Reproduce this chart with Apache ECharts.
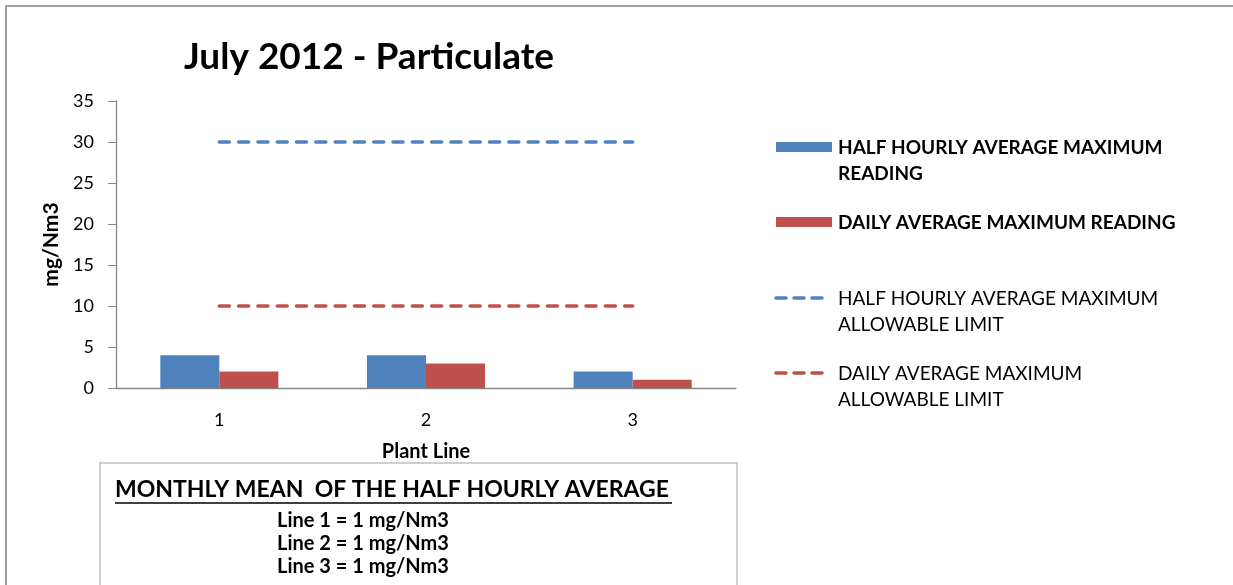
<!DOCTYPE html>
<html>
<head>
<meta charset="utf-8">
<script src="https://cdn.jsdelivr.net/npm/echarts@6/dist/echarts.min.js"></script>
<style>html,body{margin:0;padding:0;background:#fff;}#c{width:1233px;height:585px;}</style>
</head>
<body>
<div id="c"></div>
<script>
var categories = ['1', '2', '3'];
var halfHourlyMaxReading = [4, 4, 2];
var dailyMaxReading = [2, 3, 1];
var halfHourlyLimit = [30, 30, 30];
var dailyLimit = [10, 10, 10];
var yTicks = { min: 0, max: 35, interval: 5 };
var seriesNames = ['HALF HOURLY AVERAGE MAXIMUM READING', 'DAILY AVERAGE MAXIMUM READING', 'HALF HOURLY AVERAGE MAXIMUM ALLOWABLE LIMIT', 'DAILY AVERAGE MAXIMUM ALLOWABLE LIMIT'];
var monthlyMean = ['Line 1 = 1 mg/Nm3', 'Line 2 = 1 mg/Nm3', 'Line 3 = 1 mg/Nm3'];

var BLUE = '#4F81BD', RED = '#C0504D';
var FONT = 'Lato, "Open Sans", sans-serif';

var chart = echarts.init(document.getElementById('c'), null, { renderer: 'canvas' });

function legendItem(y, color, isLine, lines, bold) {
  var els = [];
  if (isLine) {
    els.push({ type: 'line', shape: { x1: 776, y1: y, x2: 829, y2: y },
      style: { stroke: color, lineWidth: 3.5, lineDash: [10, 8], lineCap: 'round' } });
  } else {
    els.push({ type: 'rect', shape: { x: 776, y: y - 5, width: 56, height: 10 }, style: { fill: color } });
  }
  lines.forEach(function (t, i) {
    els.push({ type: 'text', x: 838, y: y + 1 + i * 26,
      style: { text: t, fill: '#000', font: (bold ? 'bold ' : '') + '19px ' + FONT, textVerticalAlign: 'middle', textAlign: 'left' } });
  });
  return els;
}

var graphics = [
  { type: 'line', shape: { x1: 5, y1: 6, x2: 1240, y2: 6 }, style: { stroke: '#A0A0A0', lineWidth: 2 } },
  { type: 'line', shape: { x1: 6, y1: 5, x2: 6, y2: 600 }, style: { stroke: '#A0A0A0', lineWidth: 2 } },
  { type: 'rect', shape: { x: 100, y: 463, width: 637, height: 140 }, style: { fill: '#fff', stroke: '#BFBFBF', lineWidth: 1.5 } },
  { type: 'text', x: 115, y: 490, style: { text: 'MONTHLY MEAN  OF THE HALF HOURLY AVERAGE', fill: '#000', font: 'bold 23px ' + FONT, textVerticalAlign: 'middle' } },
  { type: 'line', shape: { x1: 115, y1: 503, x2: 672, y2: 503 }, style: { stroke: '#000', lineWidth: 1.5 } }
];
monthlyMean.forEach(function (t, i) {
  graphics.push({ type: 'text', x: 363, y: 521 + i * 23, style: { text: t, fill: '#000', font: 'bold 20px ' + FONT, textAlign: 'center', textVerticalAlign: 'middle' } });
});
graphics = graphics.concat(
  legendItem(147, BLUE, false, ['HALF HOURLY AVERAGE MAXIMUM', 'READING'], true),
  legendItem(222, RED, false, ['DAILY AVERAGE MAXIMUM READING'], true),
  legendItem(298, BLUE, true, ['HALF HOURLY AVERAGE MAXIMUM', 'ALLOWABLE LIMIT'], false),
  legendItem(373, RED, true, ['DAILY AVERAGE MAXIMUM', 'ALLOWABLE LIMIT'], false)
);

var option = {
  animation: false,
  backgroundColor: '#fff',
  title: { text: 'July 2012 - Particulate', left: 364, top: 34, textAlign: 'center',
    textStyle: { fontFamily: FONT, fontWeight: 'bold', fontSize: 37, color: '#000' } },
  grid: { left: 116, right: 497, top: 101, bottom: 197, containLabel: false },
  xAxis: {
    type: 'category', data: categories,
    name: 'Plant Line', nameLocation: 'middle', nameGap: 54,
    nameTextStyle: { fontFamily: FONT, fontWeight: 'bold', fontSize: 20, color: '#000' },
    axisLine: { lineStyle: { color: '#868686', width: 1.3 } },
    axisTick: { show: false },
    axisLabel: { margin: 23, fontFamily: FONT, fontSize: 18, color: '#000' }
  },
  yAxis: {
    type: 'value', min: yTicks.min, max: yTicks.max, interval: yTicks.interval,
    name: 'mg/Nm3', nameLocation: 'middle', nameGap: 52, nameRotate: 90,
    nameTextStyle: { fontFamily: FONT, fontWeight: 'bold', fontSize: 21, color: '#000' },
    axisLine: { show: true, lineStyle: { color: '#868686', width: 1.3 } },
    axisTick: { show: true, length: 8, lineStyle: { color: '#868686' } },
    splitLine: { show: false },
    axisLabel: { margin: 22, fontFamily: FONT, fontSize: 18, color: '#000' }
  },
  series: [
    { name: seriesNames[0], type: 'bar', data: halfHourlyMaxReading, barWidth: 59, barGap: '0%', itemStyle: { color: BLUE } },
    { name: seriesNames[1], type: 'bar', data: dailyMaxReading, barWidth: 59, barGap: '0%', itemStyle: { color: RED } },
    { name: seriesNames[2], type: 'line', data: halfHourlyLimit, symbol: 'none',
      lineStyle: { color: BLUE, width: 3.5, type: [10, 9.3], cap: 'round' } },
    { name: seriesNames[3], type: 'line', data: dailyLimit, symbol: 'none',
      lineStyle: { color: RED, width: 3.5, type: [10, 9.3], cap: 'round' } }
  ],
  graphic: graphics
};
chart.setOption(option);
</script>
</body>
</html>
